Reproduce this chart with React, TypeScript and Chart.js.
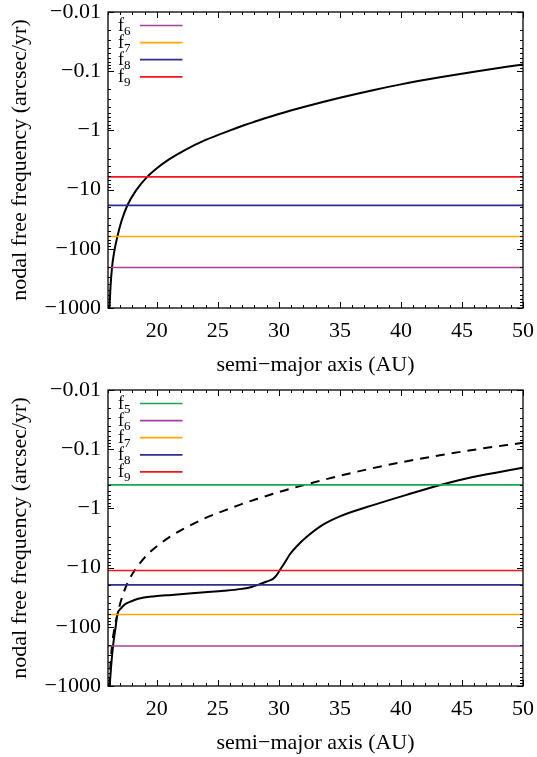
import React, { useEffect, useRef } from 'react';
import { Chart, registerables } from 'chart.js';

Chart.register(...registerables);

const SERIF = "'Liberation Serif', 'Times New Roman', 'DejaVu Serif', serif";

// ---- shared axes ----
const xMin = 16;
const xMax = 50;
const xTickValues = [20, 25, 30, 35, 40, 45, 50];
const xTickLabels = ['20', '25', '30', '35', '40', '45', '50'];
const xMinorStep = 1;
const yTickValues = [-0.01, -0.1, -1, -10, -100, -1000];
const yTickLabels = ['\u22120.01', '\u22120.1', '\u22121', '\u221210', '\u2212100', '\u22121000'];
const yMinorMultipliers = [2, 3, 4, 5, 6, 7, 8, 9];
const xTitle = 'semi\u2212major axis (AU)';
const yTitle = 'nodal free frequency (arcsec/yr)';

// ---- colours ----
const GREEN = '#1aa553';
const MAGENTA = '#a3409b';
const ORANGE = '#ffa600';
const BLUE = '#2e2e8f';
const RED = '#f5141e';

// ---- top panel ----
const topCurveA = [16.12, 16.2, 16.33, 16.5, 16.77, 17.1, 17.59, 18.3, 19.23, 20, 21, 22.3, 24, 26, 27.2, 28, 30, 32.26, 35, 37.7, 40, 43.2, 46, 50];
const topCurveF = [-1000, -457, -206, -115, -62, -34.3, -18.4, -10.3, -6.03, -4.37, -3.09, -2.15, -1.45, -1.0, -0.81, -0.715, -0.53, -0.392, -0.281, -0.209, -0.167, -0.127, -0.102, -0.077];
const topLineSubs = ['6', '7', '8', '9'];
const topLineFreqs = [-207, -62, -18.5, -6.1];
const topLineColors = [MAGENTA, ORANGE, BLUE, RED];

// ---- bottom panel ----
const botDashedA = [16.12, 16.2, 16.33, 16.5, 16.77, 17.1, 17.59, 18.3, 19.23, 20, 21, 22.3, 24, 26, 27.2, 28, 30, 32.26, 35, 37.7, 40, 43.2, 46, 50];
const botDashedF = [-1000, -457, -206, -115, -62, -34.3, -18.4, -10.3, -6.03, -4.37, -3.09, -2.15, -1.45, -1.0, -0.81, -0.715, -0.53, -0.392, -0.281, -0.209, -0.167, -0.127, -0.102, -0.078];
const botCurveA = [16.14, 16.25, 16.41, 16.6, 16.77, 17.1, 17.37, 17.92, 18.46, 19.83, 21.2, 23.93, 25.5, 26.8, 27.7, 28.43, 29.0, 29.52, 29.8, 30.07, 30.5, 30.89, 31.45, 32.26, 33.62, 35.0, 37.72, 40.46, 43.46, 45.9, 50];
const botCurveF = [-1000, -480, -213, -110, -62, -48, -42, -37, -33.7, -30.5, -28.9, -26.1, -24.6, -23.1, -21.4, -19.1, -17.2, -15.5, -13.5, -11.1, -8.1, -6.0, -4.4, -3.05, -1.88, -1.36, -0.88, -0.59, -0.39, -0.295, -0.205];
const botLineSubs = ['5', '6', '7', '8', '9'];
const botLineFreqs = [-0.40, -211, -62, -19.6, -11.2];
const botLineColors = [GREEN, MAGENTA, ORANGE, BLUE, RED];

const toPoints = (a: number[], f: number[]) => a.map((x, i) => ({ x, y: Math.abs(f[i]) }));

const gnuplotDecor = {
  id: 'gnuplotDecor',
  afterDatasetsDraw(chart: any) {
    const { ctx, chartArea: a } = chart;
    const xs = chart.scales.x;
    const ys = chart.scales.y;
    ctx.save();
    ctx.strokeStyle = '#000';
    ctx.lineWidth = 1;
    ctx.beginPath();
    for (let v = Math.ceil(xs.min); v <= xs.max; v += xMinorStep) {
      const px = Math.round(xs.getPixelForValue(v)) + 0.5;
      const len = xTickValues.includes(v) ? 6 : 3;
      ctx.moveTo(px, a.bottom);
      ctx.lineTo(px, a.bottom - len);
      ctx.moveTo(px, a.top);
      ctx.lineTo(px, a.top + len);
    }
    yTickValues.forEach((t) => {
      const d = Math.abs(t);
      const vals = [d, ...yMinorMultipliers.map((m) => d * m)];
      vals.forEach((v, k) => {
        if (v > ys.max * 1.0001) return;
        const py = Math.round(ys.getPixelForValue(v)) + 0.5;
        const len = k === 0 ? 6 : 3;
        ctx.moveTo(a.left, py);
        ctx.lineTo(a.left + len, py);
        ctx.moveTo(a.right, py);
        ctx.lineTo(a.right - len, py);
      });
    });
    ctx.stroke();
    ctx.lineWidth = 1.3;
    ctx.strokeRect(a.left, a.top, a.right - a.left, a.bottom - a.top);

    // gnuplot-style key (label, then line sample)
    let row = 0;
    chart.data.datasets.forEach((ds: any) => {
      if (!ds.legendSub) return;
      const y = a.top + 13.5 + row * 17.1;
      ctx.fillStyle = '#000';
      ctx.textAlign = 'left';
      ctx.textBaseline = 'alphabetic';
      ctx.font = `18px ${SERIF}`;
      const tx = a.left + 10;
      ctx.fillText('f', tx, y + 5);
      const w = ctx.measureText('f').width;
      ctx.font = `13px ${SERIF}`;
      ctx.fillText(ds.legendSub, tx + w, y + 9);
      ctx.strokeStyle = ds.borderColor;
      ctx.lineWidth = ds.borderWidth;
      ctx.beginPath();
      ctx.moveTo(a.left + 32, y);
      ctx.lineTo(a.left + 74.5, y);
      ctx.stroke();
      row++;
    });
    ctx.restore();
  },
};

function makeConfig(
  curves: { a: number[]; f: number[]; dash?: number[] }[],
  subs: string[],
  freqs: number[],
  colors: string[]
): any {
  const lineSets = subs.map((s, i) => ({
    data: [
      { x: xMin, y: Math.abs(freqs[i]) },
      { x: xMax, y: Math.abs(freqs[i]) },
    ],
    borderColor: colors[i],
    borderWidth: 1.7,
    pointRadius: 0,
    legendSub: s,
  }));
  const curveSets = curves.map((c) => ({
    data: toPoints(c.a, c.f),
    borderColor: '#000',
    borderWidth: 2,
    borderDash: c.dash || [],
    pointRadius: 0,
    cubicInterpolationMode: 'monotone',
  }));
  return {
    type: 'line',
    data: { datasets: [...lineSets, ...curveSets] },
    options: {
      animation: false,
      responsive: false,
      devicePixelRatio: 1,
      events: [],
      layout: { padding: { top: 12, right: 14, bottom: 0, left: 0 } },
      plugins: { legend: { display: false }, tooltip: { enabled: false } },
      scales: {
        x: {
          type: 'linear',
          min: xMin,
          max: xMax,
          afterBuildTicks: (s: any) => {
            s.ticks = xTickValues.map((v) => ({ value: v }));
          },
          afterFit: (s: any) => {
            s.height = 70;
            s.paddingLeft = 0;
            s.paddingRight = 0;
          },
          ticks: {
            autoSkip: false,
            maxRotation: 0,
            padding: 10,
            color: '#000',
            font: { family: SERIF, size: 22 },
            callback: (_v: any, i: number) => xTickLabels[i],
          },
          grid: { display: false, drawTicks: false },
          border: { display: false },
          title: {
            display: true,
            text: xTitle,
            color: '#000',
            font: { family: SERIF, size: 22 },
            padding: { top: 0, bottom: 0 },
          },
        },
        y: {
          type: 'logarithmic',
          reverse: true,
          min: Math.abs(yTickValues[0]),
          max: Math.abs(yTickValues[yTickValues.length - 1]),
          afterBuildTicks: (s: any) => {
            s.ticks = yTickValues.map((v) => ({ value: Math.abs(v) }));
          },
          afterFit: (s: any) => {
            s.width = 108;
            s.paddingTop = 0;
            s.paddingBottom = 0;
          },
          ticks: {
            autoSkip: false,
            padding: 7,
            color: '#000',
            font: { family: SERIF, size: 22 },
            callback: (_v: any, i: number) => yTickLabels[i],
          },
          grid: { display: false, drawTicks: false },
          border: { display: false },
          title: {
            display: true,
            text: yTitle,
            color: '#000',
            font: { family: SERIF, size: 22 },
            padding: { top: 7, bottom: 0 },
          },
        },
      },
    },
    plugins: [gnuplotDecor],
  };
}

export default function App() {
  const topRef = useRef<HTMLCanvasElement | null>(null);
  const botRef = useRef<HTMLCanvasElement | null>(null);

  useEffect(() => {
    const c1 = new Chart(
      topRef.current as HTMLCanvasElement,
      makeConfig([{ a: topCurveA, f: topCurveF }], topLineSubs, topLineFreqs, topLineColors)
    );
    const c2 = new Chart(
      botRef.current as HTMLCanvasElement,
      makeConfig(
        [
          { a: botDashedA, f: botDashedF, dash: [9, 7] },
          { a: botCurveA, f: botCurveF },
        ],
        botLineSubs,
        botLineFreqs,
        botLineColors
      )
    );
    return () => {
      c1.destroy();
      c2.destroy();
    };
  }, []);

  return (
    <div style={{ position: 'absolute', left: 0, top: 0, width: 537, height: 757, background: '#fff' }}>
      <canvas
        ref={topRef}
        width={537}
        height={378}
        style={{ position: 'absolute', left: 0, top: 0, width: 537, height: 378 }}
      />
      <canvas
        ref={botRef}
        width={537}
        height={378}
        style={{ position: 'absolute', left: 0, top: 378, width: 537, height: 378 }}
      />
    </div>
  );
}
